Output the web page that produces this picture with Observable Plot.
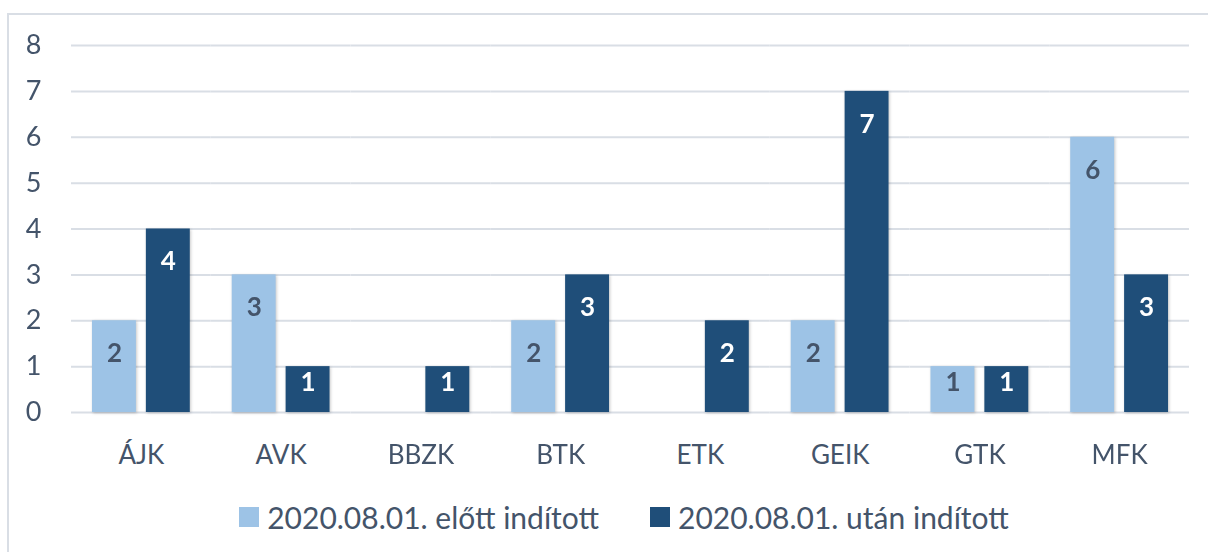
<!DOCTYPE html>
<html><head><meta charset="utf-8">
<script src="https://cdn.jsdelivr.net/npm/d3@7"></script>
<script src="https://cdn.jsdelivr.net/npm/@observablehq/plot@0.6"></script>
<style>
html,body{margin:0;background:#fff;font-family:Lato,"Noto Sans",sans-serif;overflow:hidden;width:1208px;height:552px;}
#lineTop{position:absolute;left:7px;top:13px;width:1201px;height:2px;background:#D9DEE5;}
#lineLeft{position:absolute;left:7px;top:13px;width:2px;height:539px;background:#D9DEE5;}
#frame{position:absolute;left:9px;top:15px;width:1199px;}
#legend{display:flex;align-items:center;justify-content:center;box-sizing:border-box;width:1199px;padding-left:31px;margin-top:17px;height:30px;font-size:30px;color:#44546A;}
#legend .item{display:flex;align-items:center;}
#legend .item + .item{margin-left:51px;}
#legend .sw{width:20px;height:20px;margin-right:8px;display:inline-block;}
</style></head><body>
<div id="lineTop"></div><div id="lineLeft"></div>
<div id="frame"><div id="chart"></div><div id="legend"></div></div>
<script>
const categories = ["ÁJK","AVK","BBZK","BTK","ETK","GEIK","GTK","MFK"];
const seriesNames = ["2020.08.01. előtt indított","2020.08.01. után indított"];
const beforeValues = [2,3,0,2,0,2,1,6];
const afterValues = [4,1,1,3,2,7,1,3];
const yTicks = [0,1,2,3,4,5,6,7,8];
const seriesColors = ["#9DC3E6","#1F4E79"];
const labelColors = ["#44546A","#FFFFFF"];

const data = categories.flatMap((c,i)=>[
  {cat:c, series:seriesNames[0], value:beforeValues[i]},
  {cat:c, series:seriesNames[1], value:afterValues[i]}
]);
const shown = data.filter(d=>d.value>0);

function labelMarks(si){
  const s = seriesNames[si];
  const common = {fx:"cat", x:"series", y:"value", text:d=>String(d.value), fill:labelColors[si], fontWeight:"bold", fontSize:26};
  return [
    Plot.text(shown.filter(d=>d.series===s && d.value>=2), {...common, dy:33}),
    Plot.text(shown.filter(d=>d.series===s && d.value<2), {...common, dy:16.5})
  ];
}

const plot = Plot.plot({
  width:1199, height:470, marginLeft:62, marginRight:19, marginTop:30, marginBottom:73,
  style:{fontFamily:"Lato, 'Noto Sans', sans-serif", color:"#44546A", background:"transparent", overflow:"visible"},
  fx:{domain:categories, padding:0, round:false, label:null},
  x:{domain:seriesNames, paddingInner:0.185, paddingOuter:0.389, round:false, axis:null},
  y:{domain:[0,8], axis:null},
  color:{domain:seriesNames, range:seriesColors},
  marks:[
    Plot.ruleY(yTicks, {stroke:"#D9DEE5", strokeWidth:2}),
    Plot.barY(shown, {fx:"cat", x:"series", y:"value", fill:"series"}),
    ...labelMarks(0),
    ...labelMarks(1),
    Plot.axisY({ticks:yTicks, tickSize:0, tickPadding:30, fontSize:27, label:null, fill:"#44546A"}),
    Plot.axisFx({anchor:"bottom", tickSize:0, tickPadding:33, fontSize:26, label:null, fill:"#44546A"})
  ]
});
plot.querySelectorAll('g[aria-label="bar"]').forEach(g=>g.style.filter="drop-shadow(1px 1px 1.5px rgba(0,0,0,0.22))");
document.getElementById("chart").appendChild(plot);

const legend = document.getElementById("legend");
seriesNames.forEach((name,i)=>{
  const item = document.createElement("div"); item.className="item";
  const sw = document.createElement("span"); sw.className="sw"; sw.style.background=seriesColors[i];
  const tx = document.createElement("span"); tx.textContent=name;
  item.appendChild(sw); item.appendChild(tx); legend.appendChild(item);
});
</script>
</body></html>
